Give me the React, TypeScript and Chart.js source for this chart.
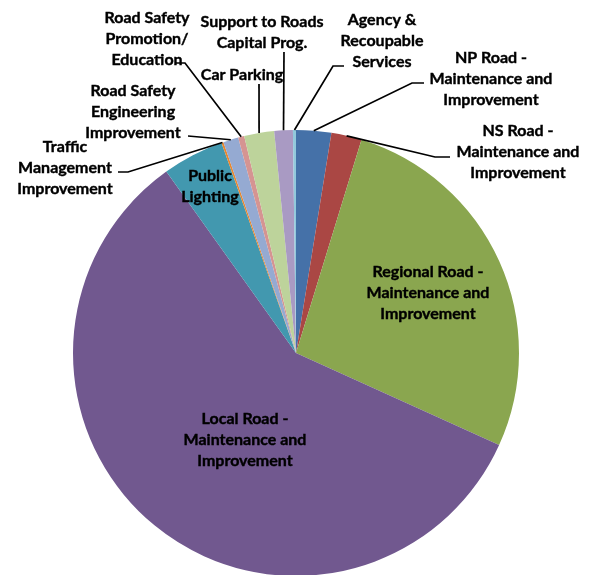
import React, { useEffect, useRef } from "react";
import { Chart, registerables } from "chart.js";

Chart.register(...registerables);

const categories: string[][] = [
  ["NP Road -", "Maintenance and", "Improvement"],
  ["NS Road -", "Maintenance and", "Improvement"],
  ["Regional Road -", "Maintenance and", "Improvement"],
  ["Local Road -", "Maintenance and", "Improvement"],
  ["Public", "Lighting"],
  ["Traffic", "Management", "Improvement"],
  ["Road Safety", "Engineering", "Improvement"],
  ["Road Safety", "Promotion/", "Education"],
  ["Car Parking"],
  ["Support to Roads", "Capital Prog."],
  ["Agency &", "Recoupable", "Services"],
];

const values: number[] = [2.54, 2.2, 27.0, 58.3, 4.45, 0.15, 1.1, 0.44, 2.17, 1.34, 0.22];

const colors: string[] = [
  "#4571A8",
  "#AA4744",
  "#8AA64F",
  "#71588F",
  "#4298AF",
  "#E8872F",
  "#95AAD2",
  "#D59492",
  "#BDD39B",
  "#A99AC3",
  "#92C9DC",
];

// Label layout: text centre x, first line y, optional leader start and elbow
type LabelLayout = {
  x: number;
  y: number;
  start?: [number, number];
  elbow?: [number, number];
};

const labelLayout: LabelLayout[] = [
  { x: 491, y: 58, start: [424, 83], elbow: [412, 83] },
  { x: 518, y: 131, start: [450, 157], elbow: [435, 157] },
  { x: 428, y: 272 },
  { x: 245, y: 419 },
  { x: 210, y: 176 },
  { x: 65, y: 147, start: [118, 172], elbow: [128, 172] },
  { x: 133, y: 91, start: [188, 136] },
  { x: 147, y: 18, start: [175, 63], elbow: [185, 63] },
  { x: 242, y: 75, start: [259, 84] },
  { x: 262, y: 22, start: [284, 52] },
  { x: 382, y: 20, start: [344, 66], elbow: [333, 66] },
];

const FONT = "bold 16px Lato, 'Open Sans', sans-serif";
const LINE_H = 21;

const labelPlugin = {
  id: "pieLabels",
  afterDraw(chart: any) {
    const ctx = chart.ctx;
    const meta = chart.getDatasetMeta(0);
    ctx.save();
    ctx.strokeStyle = "#000";
    ctx.lineWidth = 1.7;
    meta.data.forEach((arc: any, i: number) => {
      const lay = labelLayout[i];
      const p = arc.getProps(["x", "y", "startAngle", "endAngle", "outerRadius"], true);
      const mid = (p.startAngle + p.endAngle) / 2;
      const rx = p.x + Math.cos(mid) * p.outerRadius;
      const ry = p.y + Math.sin(mid) * p.outerRadius;
      if (lay.start) {
        ctx.beginPath();
        ctx.moveTo(lay.start[0], lay.start[1]);
        if (lay.elbow) ctx.lineTo(lay.elbow[0], lay.elbow[1]);
        ctx.lineTo(rx, ry);
        ctx.stroke();
      }
    });
    ctx.fillStyle = "#000";
    ctx.strokeStyle = "#000";
    ctx.lineWidth = 0.4;
    ctx.font = FONT;
    ctx.textAlign = "center";
    ctx.textBaseline = "middle";
    categories.forEach((lines, i) => {
      const lay = labelLayout[i];
      lines.forEach((t, j) => {
        ctx.fillText(t, lay.x, lay.y + j * LINE_H);
        ctx.strokeText(t, lay.x, lay.y + j * LINE_H);
      });
    });
    ctx.restore();
  },
};

export default function App() {
  const ref = useRef<HTMLCanvasElement>(null);
  useEffect(() => {
    if (!ref.current) return;
    const chart = new Chart(ref.current, {
      type: "pie",
      data: {
        labels: categories.map((c) => c.join(" ")),
        datasets: [
          {
            data: values,
            backgroundColor: colors,
            borderWidth: 0,
          },
        ],
      },
      options: {
        responsive: false,
        animation: false,
        layout: { padding: { left: 73, right: 78, top: 130, bottom: 24 } },
        plugins: {
          legend: { display: false },
          tooltip: { enabled: false },
        },
      },
      plugins: [labelPlugin],
    });
    return () => chart.destroy();
  }, []);
  return (
    <div
      style={{
        position: "absolute",
        left: 0,
        top: 0,
        width: 597,
        height: 575,
        overflow: "hidden",
        background: "#fff",
      }}
    >
      <canvas ref={ref} width={597} height={600} style={{ display: "block" }} />
    </div>
  );
}
